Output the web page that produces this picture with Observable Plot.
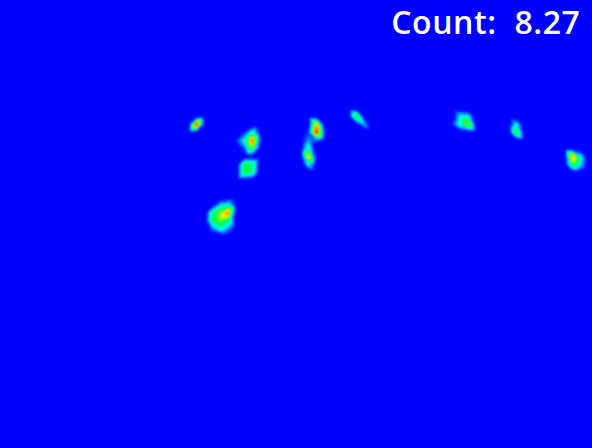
<!DOCTYPE html>
<html>
<head>
<meta charset="utf-8">
<script src="https://cdn.jsdelivr.net/npm/d3@7"></script>
<script src="https://cdn.jsdelivr.net/npm/@observablehq/plot@0.6"></script>
<style>
  html, body { margin: 0; padding: 0; background: #0000ff; overflow: hidden; }
  #chart svg { display: block; }
  #chart image { filter: blur(1px); }
  #chart text { white-space: pre; letter-spacing: 0.6px; }
</style>
</head>
<body>
<div id="chart"></div>
<script>
// Density-map cells on a 74 x 56 grid (8 px per cell): column, row, density value (0..1)
const cellCols = [
  24,                                  // blob A (~195,124)
  31, 30, 31, 31, 30, 30, 32, 29,      // blob B (~250,140)
  30, 31, 30, 31,                      // blob C (~247,168)
  28, 28, 27, 27, 27, 26, 26, 28, 26, 28, 27, // blob D (~224,218)
  39, 39, 39, 38, 40,                  // blob E (~315,127)
  38, 38, 38, 38,                      // blob F (~308,155)
  44, 45,                              // blob G (~356,117)
  58, 57, 57, 58, 56,                  // blob H (~465,124)
  64, 64,                              // blob I (~515,128)
  71, 71, 72, 72                       // blob J (~573,158)
];
const cellRows = [
  15,
  17, 17, 16, 18, 18, 16, 17, 17,
  20, 20, 21, 21,
  26, 25, 26, 27, 28, 26, 27, 27, 28, 28, 25,
  15, 16, 17, 16, 16,
  17, 18, 19, 20,
  14, 15,
  15, 15, 14, 14, 15,
  16, 15,
  19, 20, 19, 20
];
const cellValues = [
  1.0,
  0.92, 0.32, 0.36, 0.55, 0.15, 0.12, 0.12, 0.12,
  0.52, 0.45, 0.5, 0.42,
  0.88, 0.3, 0.62, 0.58, 0.36, 0.42, 0.48, 0.45, 0.2, 0.2, 0.25,
  0.8, 1.0, 0.15, 0.12, 0.12,
  0.22, 0.38, 0.78, 0.32,
  0.6, 0.24,
  0.65, 0.38, 0.32, 0.3, 0.12,
  0.6, 0.32,
  0.85, 0.55, 0.32, 0.27
];
const countLabel = "Count:  8.27";

const gridCols = 74, gridRows = 56;
const cellMap = new Map();
cellCols.forEach((c, i) => cellMap.set(c + "," + cellRows[i], cellValues[i]));
// full grid table for the raster (background cells are 0)
const grid = [];
for (let r = 0; r < gridRows; r++)
  for (let c = 0; c < gridCols; c++)
    grid.push({ col: c + 0.5, row: r + 0.5, v: cellMap.get(c + "," + r) ?? 0 });

const jetStops = [0, 0.08, 0.3, 0.5, 0.7, 0.95];
const jetColors = ["#0000ff", "#0000ff", "#00ffff", "#00ff40", "#ffff00", "#ff0000"];

const chart = Plot.plot({
  width: 592,
  height: 448,
  margin: 0,
  style: { background: "#0000ff", overflow: "hidden" },
  x: { domain: [0, gridCols], range: [0, 592], axis: null },
  y: { domain: [0, gridRows], range: [0, 448], axis: null },
  color: { type: "linear", domain: jetStops, range: jetColors, clamp: true },
  marks: [
    Plot.raster(grid, {
      x: "col", y: "row", fill: "v",
      x1: 0, x2: gridCols, y1: 0, y2: gridRows,
      width: 592, height: 448,
      interpolate: "barycentric"
    }),
    Plot.text([countLabel], {
      text: d => d,
      frameAnchor: "top-right",
      dx: -12, dy: 11,
      fill: "white",
      fontSize: 32,
      fontWeight: 600,
      fontFamily: "Open Sans",
      textAnchor: "end",
      lineAnchor: "top"
    })
  ]
});
document.getElementById("chart").append(chart);
</script>
</body>
</html>
